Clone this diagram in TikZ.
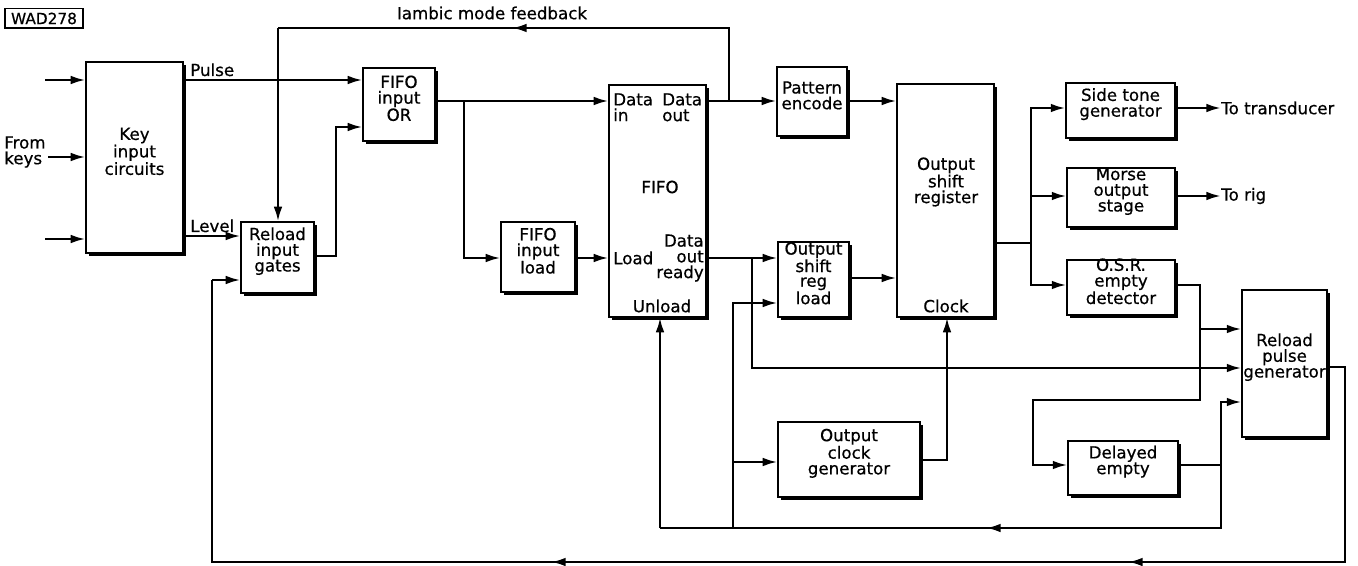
\documentclass[tikz,border=0pt]{standalone}
\usepackage{fontspec}
\setmainfont{DejaVu Sans}[FakeBold=0.6]
\usetikzlibrary{arrows.meta,shadows,fit}
\newcommand\lbfont{\fontsize{12.5}{11.8}\selectfont}
\begin{document}
\begin{tikzpicture}[x=0.75pt,y=-0.75pt,
  blk/.style={draw, line width=0.9pt, fill=white, inner sep=0pt, align=center, font=\lbfont,
    drop shadow={shadow xshift=2.6pt, shadow yshift=-2.6pt, fill=black, opacity=1}},
  lbl/.style={inner sep=0pt, font=\lbfont},
  wire/.style={line width=1.8pt},
  arr/.style={wire, -{Latex[length=11pt,width=6.5pt]}}]
\useasboundingbox[fill=white] (0,0) rectangle (1358,566);

% tag
\node[draw, line width=1pt, inner sep=0pt, minimum width=58.5pt, minimum height=14.5pt, font=\fontsize{11.5}{12}\selectfont] (wad) at (44,18.5) {WAD278};

% blocks
\node[blk, fit={(86,62) (183,253)}] (key) {Key\\input\\circuits};
\node[blk, fit={(363,68) (435,141)}] (for) {FIFO\\input\\OR};
\node[blk, fit={(241,222) (314,293)}] (rig) {Reload\\input\\gates};
\node[blk, fit={(501,222) (575,292)}] (fil) {FIFO\\input\\load};
\node[blk, fit={(609,85) (706,317)}] (fifo) {};
\node[blk, fit={(777,67) (847,136)}] (pat) {Pattern\\encode};
\node[blk, fit={(778,242) (849,317)}, font=\fontsize{12.5}{11}\selectfont] (osrl) {Output\\shift\\reg\\load};
\node[blk, fit={(778,422) (920,497)}] (ocg) {Output\\clock\\generator};
\node[blk, fit={(897,84) (994,317)}] (osr) {};
\node[blk, fit={(1066,83) (1175,138)}] (side) {Side tone\\generator};
\node[blk, fit={(1067,168) (1175,227)}] (morse) {Morse\\output\\stage};
\node[blk, fit={(1067,260) (1175,315)}] (empty) {O.S.R.\\empty\\detector};
\node[blk, fit={(1068,441) (1178,495)}] (delay) {Delayed\\empty};
\node[blk, fit={(1242,290) (1327,437)}] (rpg) {Reload\\pulse\\generator};

% labels inside FIFO
\node[lbl, anchor=north west, align=left] (fdin) at (613,93) {Data\\in};
\node[lbl, anchor=north west, align=left] (fdout) at (662,93) {Data\\out};
\node[lbl] (fname) at (660,187) {FIFO};
\node[lbl, anchor=west] (fload) at (613,258) {Load};
\node[lbl, anchor=east, align=right] (fready) at (704,258) {Data\\out\\ready};
\node[lbl] (funload) at (662,306) {Unload};
% labels inside output shift register
\node[lbl, align=center] (osrname) at (946,182) {Output\\shift\\register};
\node[lbl] (osrclock) at (946,306) {Clock};

% free labels
\node[lbl, anchor=west, align=left] (fromk) at (4,152) {From\\keys};
\node[lbl, anchor=base west] (pulse) at (190,76) {Pulse};
\node[lbl, anchor=base west] (level) at (190,232) {Level};
\node[lbl] (iambic) at (492,13) {Iambic mode feedback};
\node[lbl, anchor=west] (totr) at (1221,108) {To transducer};
\node[lbl, anchor=west] (torig) at (1221,196) {To rig};

% key inputs
\coordinate (in1) at (45,80);
\coordinate (in2) at (48,157);
\coordinate (in3) at (45,239);
\draw[arr] (in1) -- (key.west |- in1);
\draw[arr] (in2) -- (key.west |- in2);
\draw[arr] (in3) -- (key.west |- in3);

% pulse and level
\draw[arr] (key.east |- 0,80) -- (for.west |- 0,80);
\draw[arr] (key.east |- 0,236) -- (rig.west |- 0,236);

% reload input gates -> FIFO input OR
\draw[arr] (rig.east |- 0,256) -- (336,256) -- (336,127) -- (for.west |- 0,127);

% FIFO input OR -> FIFO data in, and FIFO input load
\coordinate (j1) at (464,101);
\draw[arr] (for.east |- j1) -- (fifo.west |- j1);
\draw[arr] (j1) -- (464,258) -- (fil.west |- 0,258);
\draw[arr] (fil.east |- 0,258) -- (fifo.west |- 0,258);

% data out -> pattern encode
\coordinate (j2) at (729,101);
\draw[arr] (fifo.east |- j2) -- (pat.west |- j2);
% iambic mode feedback
\coordinate (ia) at (512,28);
\draw[wire] (j2) -- (729,28) -- (278,28);
\draw[arr] (530,28) -- (ia);
\draw[arr] (278,28) -- (rig.north -| 278,0);

% pattern encode -> OSR
\draw[arr] (pat.east |- 0,101) -- (osr.west |- 0,101);

% data out ready -> OSR load, reload pulse gen
\coordinate (j3) at (752,258);
\draw[arr] (fifo.east |- j3) -- (osrl.west |- j3);
\draw[arr] (j3) -- (752,368) -- (rpg.west |- 0,368);
\draw[arr] (osrl.east |- 0,278) -- (osr.west |- 0,278);

% output clock generator -> OSR clock
\draw[arr] (ocg.east |- 0,460) -- (947,460) -- (osr.south -| 947,0);

% OSR outputs
\coordinate (j4) at (1031,243);
\draw[wire] (osr.east |- j4) -- (j4);
\draw[arr] (j4) -- (1031,108) -- (side.west |- 0,108);
\draw[arr] (1031,196) -- (morse.west |- 0,196);
\draw[arr] (j4) -- (1031,285) -- (empty.west |- 0,285);
\draw[arr] (side.east |- 0,108) -- (totr.west);
\draw[arr] (morse.east |- 0,196) -- (torig.west);

% O.S.R. empty detector
\coordinate (j5) at (1200,329);
\draw[wire] (empty.east |- 0,285) -- (1200,285) -- (j5);
\draw[arr] (j5) -- (rpg.west |- j5);
\draw[arr] (j5) -- (1200,400) -- (1033,400) -- (1033,465) -- (delay.west |- 0,465);

% delayed empty
\coordinate (j6) at (1221,465);
\coordinate (mb) at (986,528);
\draw[wire] (delay.east |- j6) -- (j6);
\draw[arr] (j6) -- (1221,402) -- (rpg.west |- 0,402);
\draw[wire] (j6) -- (1221,528) -- (660,528);
\draw[arr] (1004,528) -- (mb);
\draw[arr] (660,528) -- (fifo.south -| 660,0);
\coordinate (j7) at (733,528);
\draw[arr] (j7) -- (733,303) -- (osrl.west |- 0,303);
\draw[arr] (733,462) -- (ocg.west |- 0,462);

% reload pulse generator -> reload input gates
\coordinate (m1) at (1128,562);
\coordinate (m2) at (551,562);
\draw[wire] (rpg.east |- 0,367) -- (1345,367) -- (1345,562) -- (212,562) -- (212,280);
\draw[arr] (1146,562) -- (m1);
\draw[arr] (569,562) -- (m2);
\draw[arr] (212,280) -- (rig.west |- 0,280);
\end{tikzpicture}
\end{document}
